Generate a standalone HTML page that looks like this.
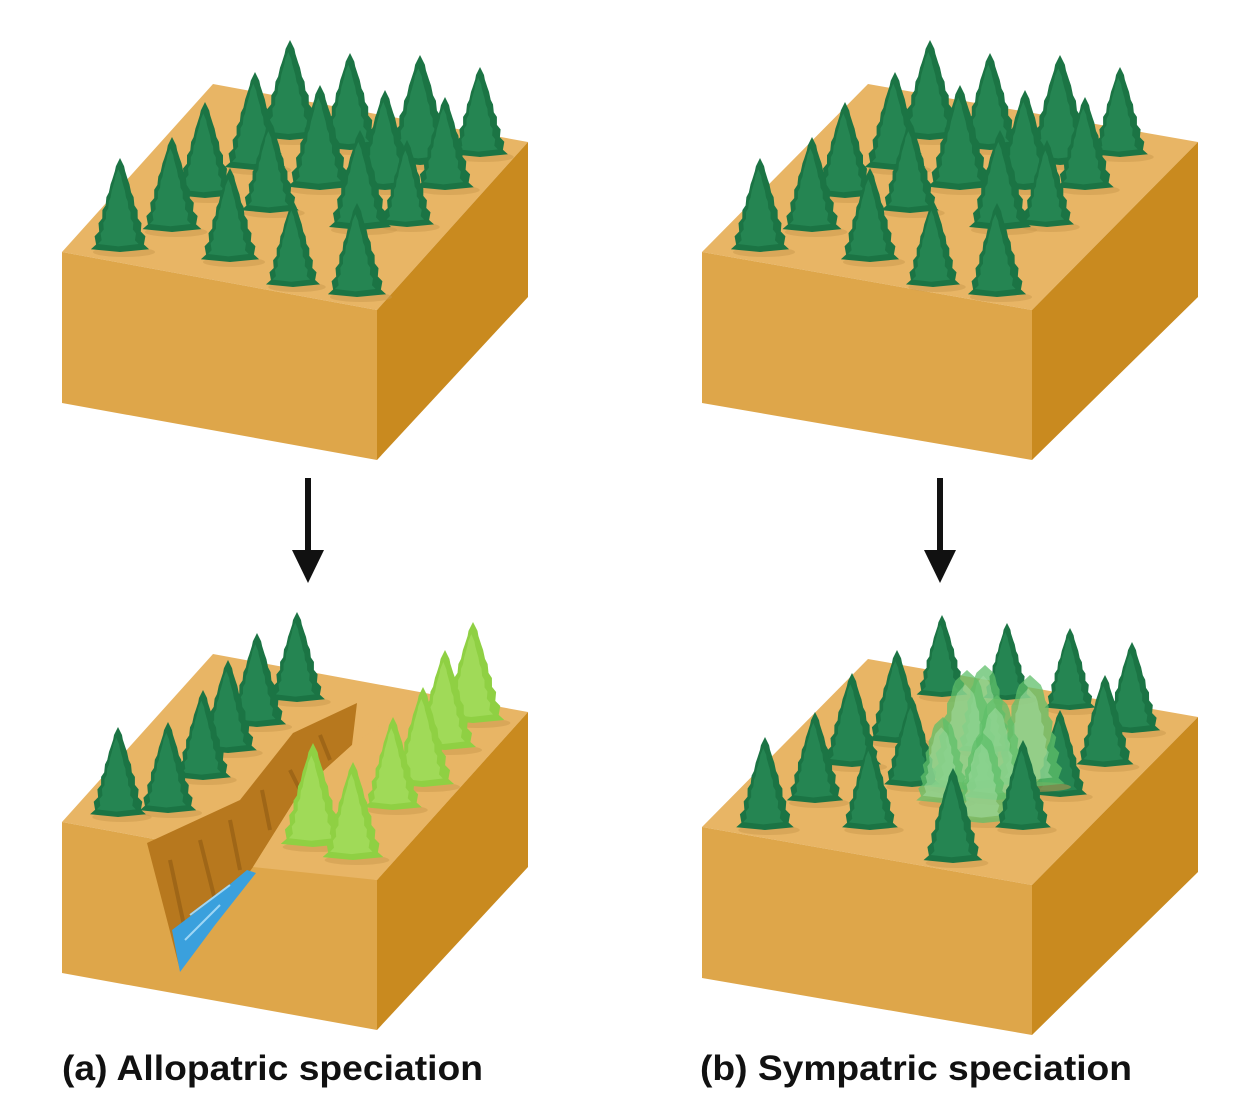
<!DOCTYPE html>
<html><head><meta charset="utf-8">
<style>
html,body{margin:0;padding:0;background:#fff;}
svg{display:block;}
text{font-family:"Liberation Sans",Arial,sans-serif;font-weight:bold;fill:#111;}
</style></head>
<body>
<svg id="fig" width="1247" height="1115" viewBox="0 0 1247 1115" xmlns="http://www.w3.org/2000/svg">
  <rect width="1247" height="1115" fill="#fff"/>
  <g id="blocks"></g>
  <g id="cleft">
    <polygon points="147,843 240,800 293,733 357,703 352,745 300,792 253,867 180,970" fill="#b7781e"/>
    <path d="M170,860 L185,930 M200,840 L215,900 M230,820 L240,870 M262,790 L270,830 M290,770 L300,790 M320,735 L330,760" stroke="#8f5a12" stroke-width="4" fill="none" opacity="0.6"/>
    <polygon points="172,930 205,905 247,870 256,873 215,925 180,972" fill="#3aa0dd"/>
    <path d="M190,915 L230,885 M185,940 L220,905" stroke="#9fd6f5" stroke-width="2" fill="none"/>
    <polygon points="253,867 300,792 352,745 400,712 528,712 377,880" fill="#e8b565"/>
  </g>
  <g id="trees"></g>
  <g>
    <line x1="308" y1="478" x2="308" y2="555" stroke="#111" stroke-width="6"/>
    <polygon points="292,550 324,550 308,583" fill="#111"/>
  </g>
  <g>
    <line x1="940" y1="478" x2="940" y2="555" stroke="#111" stroke-width="6"/>
    <polygon points="924,550 956,550 940,583" fill="#111"/>
  </g>
  <text x="62" y="1080" font-size="35" textLength="421" lengthAdjust="spacingAndGlyphs">(a) Allopatric speciation</text>
  <text x="700" y="1080" font-size="35" textLength="432" lengthAdjust="spacingAndGlyphs">(b) Sympatric speciation</text>
</svg>
<script>
const NS="http://www.w3.org/2000/svg";
const blockX=[62,702,62,702];
const blockY=[252,252,822,827];
const blockW=[0,15,0,15];
const blockNames=['block-top-left','block-top-right','block-bottom-left','block-bottom-right'];
const tlX=[120,172,205,230,255,290,270,293,320,350,360,357,385,420,407,445,480];
const tlTop=[158,137,102,168,72,40,120,200,85,53,130,203,90,55,140,97,67];
const tlBase=[252,232,198,262,170,140,213,287,190,150,230,297,190,165,227,190,157];
const blDarkX=[118,168,203,228,257,297];
const blDarkTop=[727,722,690,660,633,612];
const blDarkBase=[817,813,780,753,727,702];
const blLightX=[473,445,423,393,313,353];
const blLightTop=[622,650,687,717,743,762];
const blLightBase=[723,750,787,810,847,860];
const brX=[765,815,852,897,942,1007,1070,1132,1105,1060,912,870,1023,953];
const brTop=[737,712,673,650,615,623,628,642,675,710,697,740,740,768];
const brBase=[830,803,767,743,697,700,710,733,767,797,787,830,830,863];
const blobX=[967,985,1030,997,943,983];
const blobTop=[670,665,675,695,717,733];
const blobBase=[790,753,787,800,803,823];

function poly(parent,pts,fill,name){
  const p=document.createElementNS(NS,'polygon');
  p.setAttribute('points',pts.map(a=>a.join(',')).join(' '));
  p.setAttribute('fill',fill);
  
  
  parent.appendChild(p);return p;
}
const blocks=document.getElementById('blocks');
for(let i=0;i<4;i++){
  const g=document.createElementNS(NS,'g');
  
  
  blocks.appendChild(g);
  const x=blockX[i],y=blockY[i],w=blockW[i];
  const FL=[x,y],FR=[x+315+w,y+58],BR=[x+466+w*2,y-110],BL=[x+151+w,y-168];
  const FLb=[x,y+151],FRb=[x+315+w,y+208],BRb=[x+466+w*2,y+45];
  poly(g,[FL,FR,BR,BL],'#e8b565','top-face');
  poly(g,[FL,FR,FRb,FLb],'#dea64a','front-face');
  poly(g,[FR,BR,BRb,FRb],'#c98a1f','side-face');
}
function treePath(cx,top,base,tiers,round){
  const h=base-top,w=h*0.62;
  let L=[],R=[];
  for(let k=0;k<=tiers;k++){
    const t=k/tiers, y=top+h*t*0.97;
    const hw=w/2*(round?Math.pow(t,0.5):Math.pow(t,0.9));
    const inner=hw*0.82;
    if(k>0){L.push([cx-inner,y-h/tiers*0.35]);R.push([cx+inner,y-h/tiers*0.35]);}
    L.push([cx-hw,y]);R.push([cx+hw,y]);
  }
  let d='M'+cx+','+top;
  R.forEach(p=>d+=' L'+p[0].toFixed(1)+','+p[1].toFixed(1));
  d+=' L'+cx+','+base;
  L.slice().reverse().forEach(p=>d+=' L'+p[0].toFixed(1)+','+p[1].toFixed(1));
  return d+'Z';
}
const trees=document.getElementById('trees');
function tree(cx,top,base,fill,hi,name,op,round){
  const g=document.createElementNS(NS,'g');
  
  
  const e=document.createElementNS(NS,'ellipse');
  e.setAttribute('cx',cx+4);e.setAttribute('cy',base);e.setAttribute('rx',(base-top)*0.33);e.setAttribute('ry',5);
  e.setAttribute('fill','#c99a4e');e.setAttribute('opacity','0.5');
  g.appendChild(e);
  const p=document.createElementNS(NS,'path');
  p.setAttribute('d',treePath(cx,top,base,7,round));p.setAttribute('fill',fill);
  if(op)p.setAttribute('opacity',op);
  g.appendChild(p);
  const q=document.createElementNS(NS,'path');
  q.setAttribute('d',treePath(cx-2,top+(base-top)*0.12,base-(base-top)*0.06,7,round));
  q.setAttribute('fill',hi);q.setAttribute('transform','translate('+(cx*0.15)+',0) scale(0.85,1)');
  q.setAttribute('opacity',op?0.5:0.4);
  g.appendChild(q);
  trees.appendChild(g);
}
const dark='#1b7444',darkHi='#34a068',light='#8fd043',lightHi='#b8e878';
function order(xs,bs){return xs.map((_,i)=>i).sort((a,b)=>bs[a]-bs[b]);}
order(tlX,tlBase).forEach(i=>tree(tlX[i],tlTop[i],tlBase[i],dark,darkHi,'tree-top-left'));
order(tlX,tlBase).forEach(i=>tree(tlX[i]+640,tlTop[i],tlBase[i],dark,darkHi,'tree-top-right'));
order(blDarkX,blDarkBase).forEach(i=>tree(blDarkX[i],blDarkTop[i],blDarkBase[i],dark,darkHi,'tree-original-population'));
order(blLightX,blLightBase).forEach(i=>tree(blLightX[i],blLightTop[i],blLightBase[i],light,lightHi,'tree-isolated-population'));
const brOrder=order(brX,brBase);
brOrder.filter(i=>brBase[i]<800).forEach(i=>tree(brX[i],brTop[i],brBase[i],dark,darkHi,'tree-parent-population'));
order(blobX,blobBase).forEach(i=>tree(blobX[i],blobTop[i],blobBase[i],'#5fbf6a','#a8e0a8','tree-new-species','0.75',true));
brOrder.filter(i=>brBase[i]>=800).forEach(i=>tree(brX[i],brTop[i],brBase[i],dark,darkHi,'tree-parent-population'));
</script>
</body></html>
